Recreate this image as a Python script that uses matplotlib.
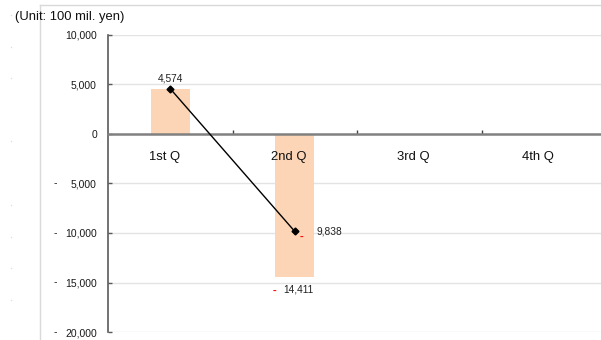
import matplotlib
matplotlib.use("Agg")
import matplotlib.pyplot as plt
from matplotlib.lines import Line2D
from matplotlib.transforms import blended_transform_factory, ScaledTranslation

plt.rcParams['font.family'] = ['Liberation Sans', 'DejaVu Sans']

# Quarterly results (100 mil. yen)
quarters = ["1st Q", "2nd Q", "3rd Q", "4th Q"]
bar_values = [4574, -14411]          # quarterly amount
line_values = [4574, -9838]          # cumulative amount
y_ticks = [10000, 5000, 0, -5000, -10000, -15000, -20000]
unit_label = "(Unit: 100 mil. yen)"

W, H = 601, 340
fig = plt.figure(figsize=(W / 100, H / 100), dpi=100)
fig.patch.set_facecolor('white')

# plot area (right edge runs slightly past the figure)
ax = fig.add_axes([108 / W, 8 / H, 498 / W, 297 / H])
ax.set_xlim(-0.5, 3.5)
ax.set_ylim(-20000, 10000)

grid_c = '#e3e3e3'
for v in y_ticks:
    if v != 0:
        ax.axhline(v, color=grid_c, lw=1.0, zorder=0)

bar_color = '#fbd5b5'
ax.bar(range(len(bar_values)), bar_values, width=0.315, color=bar_color, zorder=1)
ax.plot(range(len(line_values)), line_values, color='black', lw=1.0,
        marker='D', ms=3.5, zorder=4)

# spines
for s in ['top', 'right']:
    ax.spines[s].set_visible(False)
ax.spines['left'].set_color('#5a5a5a')
ax.spines['left'].set_linewidth(1.2)
ax.spines['bottom'].set_position(('data', 0))
ax.spines['bottom'].set_color('#808080')
ax.spines['bottom'].set_linewidth(1.8)
ax.spines['bottom'].set_zorder(3)

ax.set_yticks(y_ticks)
ax.set_yticklabels([f"{abs(v):,}" for v in y_ticks])
ax.tick_params(axis='y', direction='in', length=3, width=1, color='#5a5a5a',
               labelsize=7.5, pad=8, labelcolor='#1a1a1a')

ax.set_xticks([0.5, 1.5, 2.5])
ax.set_xticklabels([])
ax.tick_params(axis='x', direction='in', length=3, width=1, color='#404040')

# minus signs of the negative tick labels
mtrans = blended_transform_factory(fig.transFigure, ax.transData)
for v in y_ticks:
    if v < 0:
        ax.text(55 / W, v, "-", transform=mtrans, ha='center', va='center',
                fontsize=7.5, color='#1a1a1a', clip_on=False)

# category labels under the zero line
shift = ScaledTranslation(-6 / 100, -23 / 100, fig.dpi_scale_trans)
for i, q in enumerate(quarters):
    ax.text(i, 0, q, transform=ax.transData + shift, ha='center', va='center',
            fontsize=9.4, color='#111111')

# data labels
off_up = ScaledTranslation(0, 10 / 100, fig.dpi_scale_trans)
ax.text(0, line_values[0], f"{line_values[0]:,}", transform=ax.transData + off_up,
        ha='center', va='center', fontsize=7.3, color='#222222')

off_r = ScaledTranslation(22 / 100, 0, fig.dpi_scale_trans)
ax.text(1, line_values[1], f"{abs(line_values[1]):,}", transform=ax.transData + off_r,
        ha='left', va='center', fontsize=7.3, color='#222222')
off_rm = ScaledTranslation(7 / 100, -5 / 100, fig.dpi_scale_trans)
ax.text(1, line_values[1], "-", transform=ax.transData + off_rm,
        ha='center', va='center', fontsize=8, fontweight='bold', color='#ff0000')

off_dn = ScaledTranslation(4 / 100, -13 / 100, fig.dpi_scale_trans)
ax.text(1, bar_values[1], f"{abs(bar_values[1]):,}", transform=ax.transData + off_dn,
        ha='center', va='center', fontsize=7.3, color='#222222')
off_dm = ScaledTranslation(-20 / 100, -14 / 100, fig.dpi_scale_trans)
ax.text(1, bar_values[1], "-", transform=ax.transData + off_dm,
        ha='center', va='center', fontsize=8, fontweight='bold', color='#ff0000')

# outer chart frame
frame_c = '#d9d9d9'
fig.add_artist(Line2D([40 / W, 1], [1 - 5 / H, 1 - 5 / H], color=frame_c, lw=1.0))
fig.add_artist(Line2D([40 / W, 40 / W], [0, 1 - 5 / H], color=frame_c, lw=1.0))

# faint markers along the left margin
for yy in [15, 47, 78, 141, 205, 237, 268, 300]:
    fig.add_artist(Line2D([11 / W], [1 - yy / H], marker='s', ms=0.9,
                          color='#dddddd', lw=0, markeredgewidth=0))

fig.text(15 / W, 1 - 17 / H, unit_label, ha='left', va='center',
         fontsize=9.4, color='#111111')

fig.savefig("out.png", dpi=100)
